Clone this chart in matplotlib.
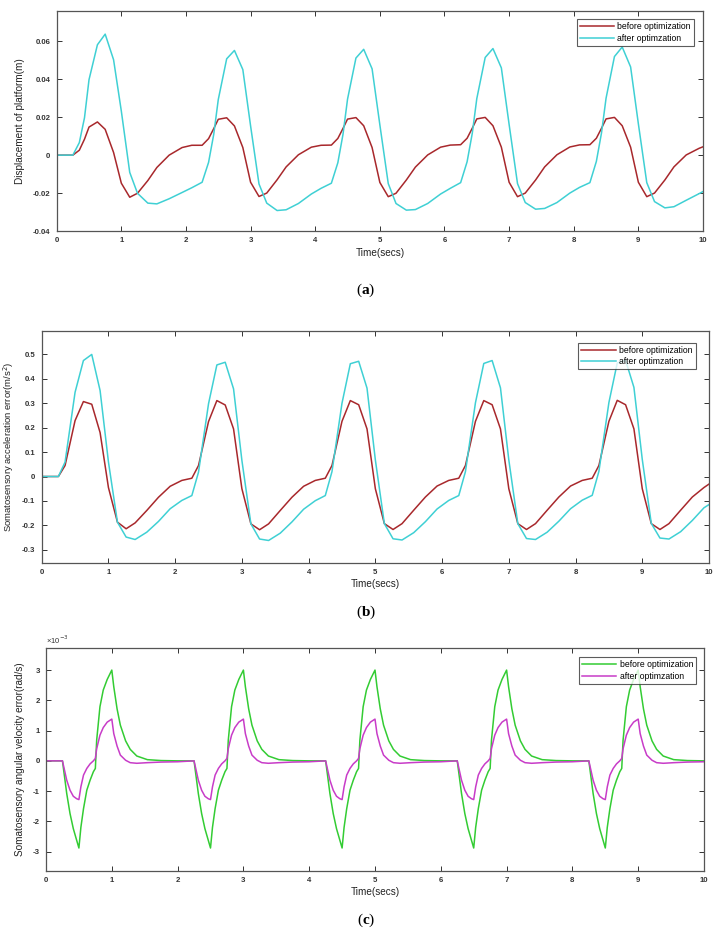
import matplotlib
matplotlib.use("Agg")
import numpy as np
from matplotlib import pyplot as plt
from matplotlib.ticker import FuncFormatter

plt.rcParams['font.family'] = ['Liberation Sans', 'DejaVu Sans']
plt.rcParams['axes.unicode_minus'] = False
plt.rcParams['mathtext.fontset'] = 'custom'
plt.rcParams['mathtext.rm'] = 'Liberation Serif'
plt.rcParams['mathtext.bf'] = 'Liberation Serif:bold'

# ---- panel (a): displacement of platform (m)
t_a = [0, 0.25, 0.35, 0.43, 0.50, 0.63, 0.75, 0.88, 1.00, 1.13, 1.25, 1.41, 1.55, 1.74, 1.94, 2.09,
       2.25, 2.35, 2.43, 2.50, 2.63, 2.75, 2.88, 3.00, 3.13, 3.25, 3.41, 3.55, 3.74, 3.94, 4.09,
       4.25, 4.35, 4.43, 4.50, 4.63, 4.75, 4.88, 5.00, 5.13, 5.25, 5.41, 5.55, 5.74, 5.94, 6.09,
       6.25, 6.35, 6.43, 6.50, 6.63, 6.75, 6.88, 7.00, 7.13, 7.25, 7.41, 7.55, 7.74, 7.94, 8.09,
       8.25, 8.35, 8.43, 8.50, 8.63, 8.75, 8.88, 9.00, 9.13, 9.25, 9.41, 9.55, 9.74, 9.94, 10.0]
disp_before = [0, 0, 0.0026, 0.0084, 0.0148, 0.0175, 0.0136, 0.0014, -0.0148, -0.0222, -0.0201, -0.0134, -0.0065, 0.0, 0.0040, 0.0052,
               0.0052, 0.0087, 0.0140, 0.0189, 0.0197, 0.0154, 0.0040, -0.0143, -0.0218, -0.0200, -0.0130, -0.0062, 0.0002, 0.0042, 0.0052,
               0.0053, 0.0088, 0.0141, 0.0190, 0.0198, 0.0155, 0.0040, -0.0144, -0.0219, -0.0201, -0.0131, -0.0063, 0.0001, 0.0042, 0.0053,
               0.0055, 0.0089, 0.0142, 0.0191, 0.0199, 0.0155, 0.0042, -0.0143, -0.0219, -0.0200, -0.0131, -0.0062, 0.0002, 0.0043, 0.0054,
               0.0055, 0.0089, 0.0142, 0.0191, 0.0199, 0.0155, 0.0042, -0.0143, -0.0219, -0.0200, -0.0131, -0.0062, 0.0001, 0.0036, 0.0044]
disp_after = [0, 0, 0.0066, 0.0197, 0.0398, 0.0582, 0.0638, 0.0503, 0.0232, -0.0091, -0.0201, -0.0253, -0.0257, -0.0230, -0.0197, -0.0172,
              -0.0143, -0.0038, 0.0110, 0.0293, 0.0508, 0.0552, 0.0451, 0.0154, -0.0152, -0.0253, -0.0292, -0.0288, -0.0255, -0.0205, -0.0175,
              -0.0148, -0.0040, 0.0110, 0.0295, 0.0512, 0.0558, 0.0455, 0.0160, -0.0150, -0.0255, -0.0290, -0.0287, -0.0255, -0.0205, -0.0175,
              -0.0145, -0.0035, 0.0115, 0.0298, 0.0515, 0.0562, 0.0460, 0.0162, -0.0150, -0.0250, -0.0285, -0.0281, -0.0250, -0.0200, -0.0170,
              -0.0145, -0.0033, 0.0118, 0.0300, 0.0520, 0.0570, 0.0465, 0.0165, -0.0145, -0.0245, -0.0278, -0.0272, -0.0238, -0.0203, -0.0192]

# ---- panel (b): somatosensory acceleration error (m/s^2)
t_b = [0, 0.25, 0.35, 0.50, 0.625, 0.75, 0.875, 1.0, 1.135, 1.265, 1.40, 1.575, 1.75, 1.925, 2.10,
       2.25, 2.35, 2.50, 2.625, 2.75, 2.875, 3.0, 3.135, 3.265, 3.40, 3.575, 3.75, 3.925, 4.10,
       4.25, 4.35, 4.50, 4.625, 4.75, 4.875, 5.0, 5.135, 5.265, 5.40, 5.575, 5.75, 5.925, 6.10,
       6.25, 6.35, 6.50, 6.625, 6.75, 6.875, 7.0, 7.135, 7.265, 7.40, 7.575, 7.75, 7.925, 8.10,
       8.25, 8.35, 8.50, 8.625, 8.75, 8.875, 9.0, 9.135, 9.265, 9.40, 9.575, 9.75, 9.925, 10.0]
acc_before = [0, 0, 0.045, 0.229, 0.307, 0.296, 0.180, -0.045, -0.187, -0.214, -0.190, -0.139, -0.085, -0.040, -0.016,
              -0.007, 0.045, 0.225, 0.311, 0.293, 0.195, -0.050, -0.194, -0.218, -0.194, -0.139, -0.085, -0.040, -0.016,
              -0.007, 0.045, 0.226, 0.311, 0.294, 0.195, -0.050, -0.193, -0.217, -0.193, -0.138, -0.084, -0.039, -0.016,
              -0.007, 0.045, 0.226, 0.311, 0.294, 0.195, -0.050, -0.193, -0.217, -0.193, -0.138, -0.084, -0.039, -0.016,
              -0.007, 0.045, 0.226, 0.312, 0.294, 0.195, -0.050, -0.193, -0.217, -0.193, -0.138, -0.084, -0.045, -0.031]
acc_after = [0, 0, 0.059, 0.345, 0.475, 0.500, 0.352, 0.060, -0.187, -0.248, -0.258, -0.228, -0.184, -0.132, -0.098,
             -0.078, 0.018, 0.298, 0.457, 0.468, 0.359, 0.066, -0.194, -0.256, -0.262, -0.232, -0.186, -0.134, -0.099,
             -0.078, 0.020, 0.300, 0.462, 0.472, 0.362, 0.068, -0.193, -0.255, -0.260, -0.230, -0.185, -0.133, -0.098,
             -0.078, 0.020, 0.302, 0.463, 0.475, 0.363, 0.068, -0.193, -0.254, -0.258, -0.228, -0.183, -0.132, -0.097,
             -0.077, 0.021, 0.303, 0.465, 0.476, 0.365, 0.070, -0.192, -0.252, -0.256, -0.226, -0.180, -0.128, -0.115]

# ---- panel (c): somatosensory angular velocity error (x1e-3 rad/s), one pulse per cycle
cycle_starts = [0.25, 2.25, 4.25, 6.25, 8.25]
c_offsets = [0, 0.025, 0.065, 0.115, 0.165, 0.215, 0.25, 0.28, 0.32, 0.37, 0.42, 0.47, 0.5,
             0.52, 0.57, 0.62, 0.68, 0.75, 0.78, 0.83, 0.88, 0.96, 1.03, 1.13, 1.29, 1.5, 1.75]
ang_before = [0, -0.42, -1.08, -1.74, -2.24, -2.62, -2.88, -2.2, -1.58, -0.97, -0.64, -0.36, -0.25,
              0.68, 1.79, 2.34, 2.69, 3.0, 2.45, 1.72, 1.18, 0.66, 0.38, 0.16, 0.04, 0.01, 0.0]
ang_after = [0, -0.25, -0.64, -0.97, -1.17, -1.25, -1.28, -0.86, -0.47, -0.25, -0.10, 0.0, 0.08,
             0.40, 0.85, 1.10, 1.28, 1.38, 0.90, 0.49, 0.19, 0.02, -0.06, -0.08, -0.06, -0.04, -0.03]

t_c = [0.0]
c_before = [0.0]
c_after = [0.0]
for s in cycle_starts:
    t_c += [s + o for o in c_offsets]
    c_before += ang_before
    c_after += ang_after

RED = '#a8282c'
CYAN = '#3fd0d4'
GREEN = '#33cc33'
MAGENTA = '#c83cc8'

fig = plt.figure(figsize=(7.18, 9.34), dpi=100)
W, H = 718, 934


def add_axes(x0, y0, x1, y1):
    return fig.add_axes([x0 / W, 1 - y1 / H, (x1 - x0) / W, (y1 - y0) / H])


def style(ax, ylabel, ylab_x, yticks, ylab_size=7.2):
    ax.set_xlim(0, 10)
    ax.set_xticks(range(0, 11))
    ax.set_yticks(yticks)
    ax.yaxis.set_major_formatter(FuncFormatter(lambda v, p: '%g' % round(v, 6)))
    ax.tick_params(direction='in', top=True, right=True, length=3.5, width=0.7,
                   labelsize=5.6, pad=4.5, colors='#333333')
    for lab in ax.get_xticklabels() + ax.get_yticklabels():
        lab.set_fontweight('bold')
    for sp in ax.spines.values():
        sp.set_color('#555555')
        sp.set_linewidth(0.9)
    ax.set_xlabel('Time(secs)', fontsize=7.2, labelpad=2.5, color='#222222')
    ax.set_ylabel(ylabel, fontsize=ylab_size, color='#222222')
    ax.yaxis.set_label_coords(ylab_x, 0.5)


def legend(ax, x1, y0):
    lg = ax.legend(loc='upper right', bbox_to_anchor=(x1, y0), borderaxespad=0,
                   fontsize=6.2, handlelength=4.0, frameon=True, fancybox=False,
                   borderpad=0.35, labelspacing=0.3, handletextpad=0.4)
    lg.get_frame().set_edgecolor('#333333')
    lg.get_frame().set_linewidth(0.8)


# (a)
ax1 = add_axes(56.7, 11, 703, 231)
ax1.plot(t_a, disp_before, color=RED, lw=1.1, label='before optimization')
ax1.plot(t_a, disp_after, color=CYAN, lw=1.1, label='after optimzation')
ax1.set_ylim(-0.04, 0.076)
style(ax1, 'Displacement of platform(m)', -0.049, [-0.04, -0.02, 0, 0.02, 0.04, 0.06])
legend(ax1, 0.986, 0.964)

# (b)
ax2 = add_axes(41.7, 331, 709, 562.7)
ax2.plot(t_b, acc_before, color=RED, lw=1.1, label='before optimization')
ax2.plot(t_b, acc_after, color=CYAN, lw=1.1, label='after optimzation')
ax2.set_ylim(-0.353, 0.596)
style(ax2, 'Somatosensory acceleration error(m/s$^{\\mathsf{2}}$)', -0.0385,
      [-0.3, -0.2, -0.1, 0, 0.1, 0.2, 0.3, 0.4, 0.5], ylab_size=6.8)
legend(ax2, 0.98, 0.95)

# (c)
ax3 = add_axes(46, 648.3, 704, 870.7)
ax3.plot(t_c, c_before, color=GREEN, lw=1.1, label='before optimization')
ax3.plot(t_c, c_after, color=MAGENTA, lw=1.1, label='after optimzation')
ax3.set_ylim(-3.63, 3.72)
style(ax3, 'Somatosensory angular velocity error(rad/s)', -0.032, [-3, -2, -1, 0, 1, 2, 3])
legend(ax3, 0.988, 0.96)
ax3.text(0.0, 1.01, '×10$^{\\mathsf{-3}}$', transform=ax3.transAxes, fontsize=5.5,
         color='#333333', va='bottom', ha='left')

# panel captions
for lab, y in [('a', 290), ('b', 612), ('c', 920)]:
    fig.text(366 / W, 1 - y / H, '($\\mathbf{%s}$)' % lab, family='Liberation Serif',
             fontsize=11, ha='center', va='center')

fig.savefig('out.png', dpi=100)
